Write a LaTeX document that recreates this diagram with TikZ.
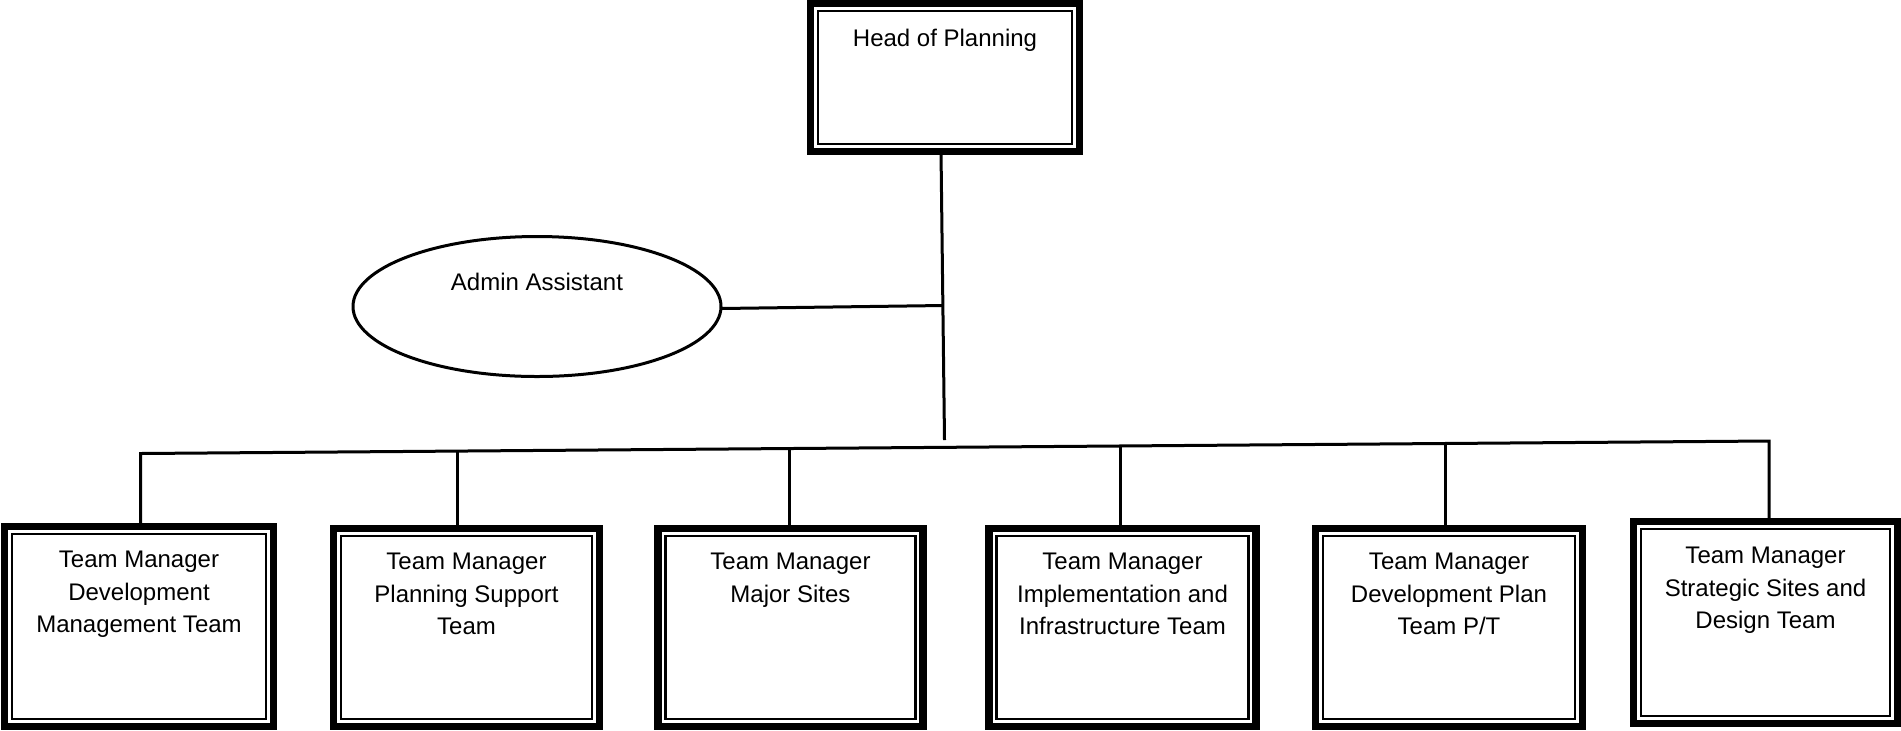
\documentclass[tikz,border=0pt]{standalone}
\usepackage{fontspec}
\setmainfont{Liberation Sans}
\usetikzlibrary{shapes.geometric}
\begin{document}
\begin{tikzpicture}[x=0.5pt,y=-0.5pt,
  orgbox/.style={draw=black, line width=3.6pt, rectangle, inner sep=0pt, outer sep=0pt, fill=white},
  innerframe/.style={draw=black, line width=1.25pt},
  lbl/.style={font=\fontsize{12}{16.25}\selectfont, align=center, inner sep=0pt, anchor=north},
  conn/.style={draw=black, line width=1.5pt},
  oval/.style={draw=black, ellipse, line width=1.5pt, inner sep=0pt, outer sep=0pt}
  ]
\useasboundingbox (0,0) rectangle (1901,730);
% boxes
\node[orgbox, minimum width=134.5pt, minimum height=74pt] (head) at (945,77.5) {};
\node[orgbox, minimum width=134.5pt, minimum height=100pt] (b1) at (139,626.5) {};
\node[orgbox, minimum width=133pt, minimum height=99pt] (b2) at (466.5,627.5) {};
\node[orgbox, minimum width=132.5pt, minimum height=99pt] (b3) at (790.5,627.5) {};
\node[orgbox, minimum width=133.5pt, minimum height=99pt] (b4) at (1122.5,627.5) {};
\node[orgbox, minimum width=133.5pt, minimum height=99pt] (b5) at (1449,627.5) {};
\node[orgbox, minimum width=132pt, minimum height=101pt] (b6) at (1765.5,622.5) {};
\foreach \n in {head,b1,b2,b3,b4,b5,b6}
  \draw[innerframe] ([xshift=3.75pt,yshift=-3.75pt]\n.north west) rectangle ([xshift=-3.75pt,yshift=3.75pt]\n.south east);
% texts
\node[lbl] (th) at ([yshift=-12.5pt]head.north) {Head of Planning};
\node[lbl] (t1) at ([yshift=-12.25pt]b1.north) {Team Manager\\Development\\Management Team};
\node[lbl] (t2) at ([yshift=-12.25pt]b2.north) {Team Manager\\Planning Support\\Team};
\node[lbl] (t3) at ([yshift=-12.25pt]b3.north) {Team Manager\\Major Sites};
\node[lbl] (t4) at ([yshift=-12.25pt]b4.north) {Team Manager\\Implementation and\\Infrastructure Team};
\node[lbl] (t5) at ([yshift=-12.25pt]b5.north) {Team Manager\\Development Plan\\Team P/T};
\node[lbl] (t6) at ([yshift=-12.75pt]b6.north) {Team Manager\\Strategic Sites and\\Design Team};
% admin
\node[oval, minimum width=184pt, minimum height=70pt] (aa) at (537,306.5) {};
\node[lbl, anchor=base] (ta) at (537,290) {Admin Assistant};
% connectors
\coordinate (vbot) at (944.5,440);
\coordinate (aj) at (943,305.5);
\draw[conn] ([xshift=-2pt]head.south) -- (vbot);
\draw[conn] ([yshift=-1pt]aa.east) -- (aj);
\coordinate (busL) at (140.5,453.5);
\coordinate (busR) at (1769,441);
\draw[conn] (busL |- b1.north) -- (busL) -- (busR) -- (busR |- b6.north);
\coordinate (d2) at (457.5,451);
\coordinate (d3) at (789,448.5);
\coordinate (d4) at (1120,446);
\coordinate (d5) at (1445,443.5);
\foreach \d/\b in {d2/b2,d3/b3,d4/b4,d5/b5}
  \draw[conn] (\d) -- (\d |- \b.north);
\end{tikzpicture}
\end{document}
